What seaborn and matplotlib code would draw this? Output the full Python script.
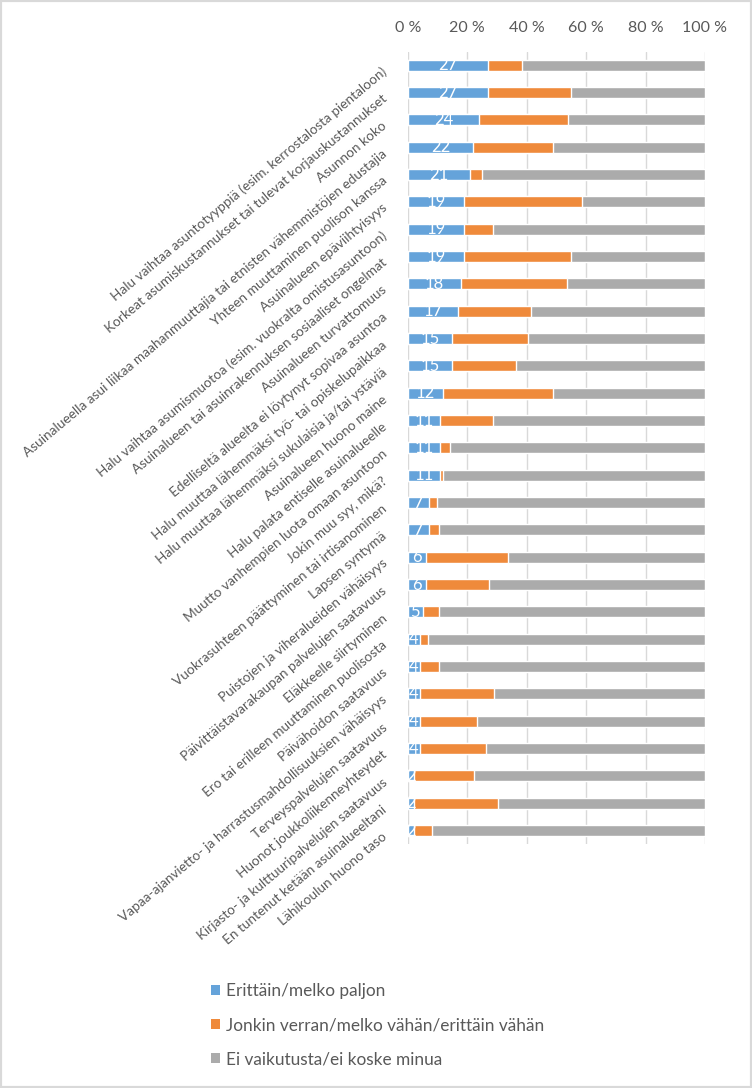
import numpy as np
import pandas as pd
import matplotlib
matplotlib.use("Agg")
import matplotlib.pyplot as plt
from matplotlib.patches import Patch, Rectangle
import seaborn as sns

# Syyt ja osuudet (%)
reasons = [
    "Halu vaihtaa asuntotyyppiä (esim. kerrostalosta pientaloon)",
    "Korkeat asumiskustannukset tai tulevat korjauskustannukset",
    "Asunnon koko",
    "Asuinalueella asui liikaa maahanmuuttajia tai etnisten vähemmistöjen edustajia",
    "Yhteen muuttaminen puolison kanssa",
    "Asuinalueen epäviihtyisyys",
    "Halu vaihtaa asumismuotoa (esim. vuokralta omistusasuntoon)",
    "Asuinalueen tai asuinrakennuksen sosiaaliset ongelmat",
    "Asuinalueen turvattomuus",
    "Edelliseltä alueelta ei löytynyt sopivaa asuntoa",
    "Halu muuttaa lähemmäksi työ- tai opiskelupaikkaa",
    "Halu muuttaa lähemmäksi sukulaisia ja/tai ystäviä",
    "Asuinalueen huono maine",
    "Halu palata entiselle asuinalueelle",
    "Muutto vanhempien luota omaan asuntoon",
    "Jokin muu syy, mikä?",
    "Vuokrasuhteen päättyminen tai irtisanominen",
    "Lapsen syntymä",
    "Puistojen ja viheralueiden vähäisyys",
    "Päivittäistavarakaupan palvelujen saatavuus",
    "Eläkkeelle siirtyminen",
    "Ero tai erilleen muuttaminen puolisosta",
    "Päivähoidon saatavuus",
    "Vapaa-ajanvietto- ja harrastusmahdollisuuksien vähäisyys",
    "Terveyspalvelujen saatavuus",
    "Huonot joukkoliikenneyhteydet",
    "Kirjasto- ja kulttuuripalvelujen saatavuus",
    "En tuntenut ketään asuinalueeltani",
    "Lähikoulun huono taso",
]
paljon = [27, 27, 24, 22, 21, 19, 19, 19, 18, 17, 15, 15, 12, 11, 11,
          11, 7, 7, 6, 6, 5, 4, 4, 4, 4, 4, 2, 2, 2]
vahan = [11.5, 28, 30, 27, 4, 39.5, 9.7, 36, 35.5, 24.6, 25.4, 21.5, 36.8, 17.8, 3.1,
         0.8, 2.9, 3.6, 27.6, 21.5, 5.6, 2.7, 6.4, 25.1, 19.2, 22.3, 20.4, 28.4, 6.0]
ei_vaik = [61.5, 45, 46, 51, 75, 41.5, 71.3, 45, 46.5, 58.4, 59.6, 63.5, 51.2, 71.2, 85.9,
           88.2, 90.1, 89.4, 66.4, 72.5, 89.4, 93.3, 89.6, 70.9, 76.8, 73.7, 77.6, 69.6, 92.0]
series_names = ["Erittäin/melko paljon",
                "Jonkin verran/melko vähän/erittäin vähän",
                "Ei vaikutusta/ei koske minua"]
colors = ["#65A3DA", "#EF8A3B", "#ABABAB"]
xticks = [0, 20, 40, 60, 80, 100]

df = pd.DataFrame({"syy": reasons, "paljon": paljon, "vahan": vahan, "ei": ei_vaik})
df["c1"] = df["paljon"]
df["c2"] = df["paljon"] + df["vahan"]
df["c3"] = df["c2"] + df["ei"]

sns.set_theme(style="white")
plt.rcParams["font.family"] = ["Lato", "DejaVu Sans"]
txt = "#595959"

fig = plt.figure(figsize=(7.52, 10.88), dpi=100)
ax = fig.add_axes([0.5422, 0.2241, 0.3953, 0.7285])

# pinotut palkit: kumulatiiviset summat takaa eteen
for col, c in zip(["c3", "c2", "c1"], colors[::-1]):
    sns.barplot(data=df, x=col, y="syy", orient="h", color=c, width=0.4,
                saturation=1, ax=ax, zorder=3)

ax.bar_label(ax.containers[2], labels=[str(v) for v in paljon], label_type="center",
             color="white", fontsize=12)

ax.set_xlim(0, 100)
ax.set_ylim(len(reasons) - 0.5, -0.5)
ax.set_xticks(xticks)
ax.set_xticklabels([f"{t} %" for t in xticks])
ax.xaxis.tick_top()
ax.tick_params(axis="x", length=0, pad=12, labelsize=11.5, labelcolor=txt)
ax.tick_params(axis="y", length=0, pad=19, labelsize=9.8, labelcolor=txt)
for lab in ax.get_yticklabels():
    lab.set_rotation(40)
    lab.set_rotation_mode("anchor")
    lab.set_ha("right")
    lab.set_va("top")
ax.grid(axis="x", color="#D9D9D9", lw=1, zorder=0)
ax.set_axisbelow(True)
for s in ax.spines.values():
    s.set_visible(False)
ax.set_xlabel("")
ax.set_ylabel("")

handles = [Patch(facecolor=c, edgecolor="none") for c in colors]
fig.legend(handles, series_names, loc="upper left", bbox_to_anchor=(0.281, 0.0965),
           frameon=False, fontsize=12.4, labelcolor=txt, handlelength=0.5,
           handleheight=0.5, handletextpad=0.35, labelspacing=1.05,
           borderpad=0, borderaxespad=0)

fig.add_artist(Rectangle((0, 0), 1, 1, transform=fig.transFigure, fill=False,
                         edgecolor="#D9D9D9", lw=3, zorder=10))

fig.savefig("out.png", dpi=100)
